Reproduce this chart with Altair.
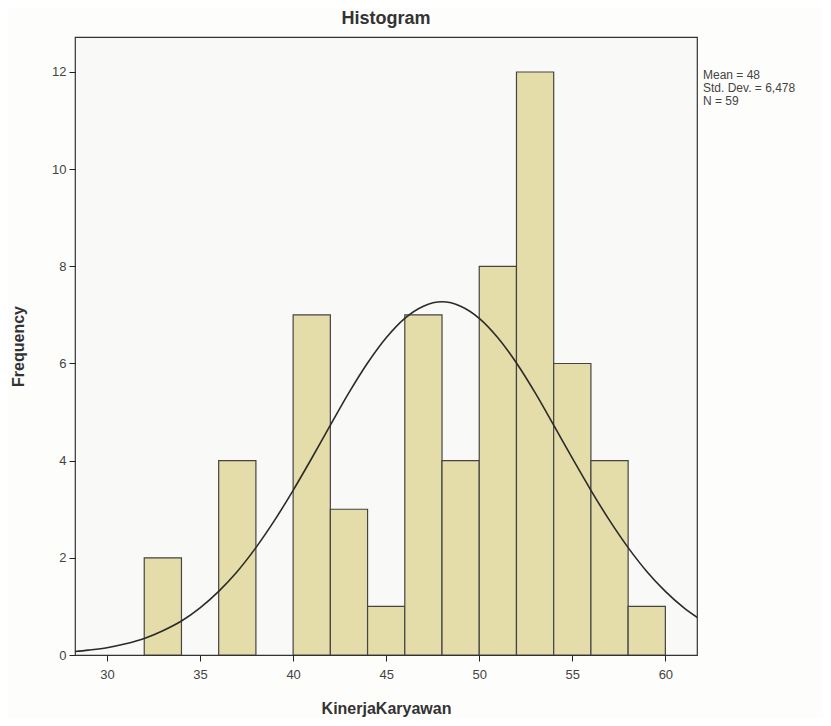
import altair as alt
import pandas as pd

# Histogram bins (start of each 2-unit bin) and frequencies
bin_start = [32, 36, 40, 42, 44, 46, 48, 50, 52, 54, 56, 58]
bin_count = [2, 4, 7, 3, 1, 7, 4, 8, 12, 6, 4, 1]
bin_width = 2

# Normal curve
curve_x = list(range(28, 63))
curve_y = [0.06, 0.10, 0.15, 0.23, 0.34, 0.50, 0.70, 0.97, 1.31, 1.72,
           2.21, 2.77, 3.39, 4.05, 4.73, 5.40, 6.01, 6.53, 6.93, 7.18,
           7.27, 7.18, 6.93, 6.53, 6.01, 5.40, 4.73, 4.05, 3.39, 2.77,
           2.21, 1.72, 1.31, 0.97, 0.70]

x_ticks = [30, 35, 40, 45, 50, 55, 60]
y_ticks = [0, 2, 4, 6, 8, 10, 12]
stats_lines = ["Mean = 48", "Std. Dev. = 6,478", "N = 59"]

bars_df = pd.DataFrame({
    "start": bin_start,
    "end": [s + bin_width for s in bin_start],
    "count": bin_count,
})
curve_df = pd.DataFrame({"x": curve_x, "y": curve_y})

W, H = 622, 618
FONT = "Liberation Sans"

xscale = alt.Scale(domain=[28.28, 61.7], nice=False, zero=False)
yscale = alt.Scale(domain=[0, 12.72], nice=False)

xaxis = alt.Axis(values=x_ticks, title="KinerjaKaryawan", grid=False, domain=False,
                 tickColor="#222", tickSize=6, labelColor="#444", labelFontSize=13,
                 labelFont=FONT, labelPadding=7, titleFont=FONT, titleFontSize=16,
                 titleFontWeight="bold", titleColor="#333", titleY=53,
                 titleBaseline="middle")
yaxis = alt.Axis(values=y_ticks, title="Frequency", grid=False, domain=False,
                 tickColor="#222", tickSize=6, labelColor="#444", labelFontSize=13,
                 labelFont=FONT, labelPadding=3, titleFont=FONT, titleFontSize=16,
                 titleFontWeight="bold", titleColor="#333", titleX=-57,
                 titleBaseline="middle")

bars = alt.Chart(bars_df).mark_bar(
    fill="#e4ddaa", stroke="#444", strokeWidth=1.2, clip=True
).encode(
    x=alt.X("start:Q", scale=xscale, axis=xaxis),
    x2="end:Q",
    y=alt.Y("count:Q", scale=yscale, axis=yaxis),
    y2=alt.datum(0),
)

curve = alt.Chart(curve_df).mark_line(
    color="#2a2a2a", strokeWidth=1.6, interpolate="monotone", clip=True
).encode(
    x=alt.X("x:Q", scale=xscale),
    y=alt.Y("y:Q", scale=yscale),
)

stats = alt.Chart(pd.DataFrame({"t": [0]})).mark_text(
    text=stats_lines, align="left", baseline="middle", font=FONT,
    fontSize=12, color="#444", lineHeight=13
).encode(
    x=alt.value(W + 6),
    y=alt.value(38),
)

chart = alt.layer(bars, curve, stats).properties(
    width=W,
    height=H,
    title=alt.TitleParams("Histogram", font=FONT, fontSize=18, fontWeight="bold",
                          color="#333", offset=9, anchor="middle"),
    autosize=alt.AutoSizeParams(type="none"),
    padding={"left": 67, "top": 29, "right": 126, "bottom": 63},
    background="#fdfdfb",
).configure_view(
    stroke="#333", strokeWidth=1.2, fill="#f9f9f7"
)

chart.save("out.html", embed_options={"renderer": "svg", "actions": False})
